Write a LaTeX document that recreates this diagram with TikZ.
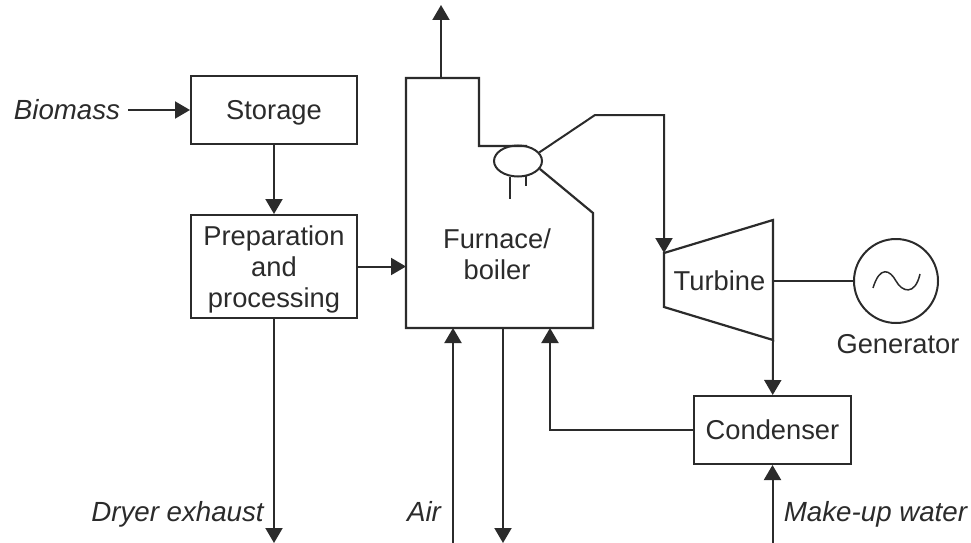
\documentclass[tikz,border=0pt]{standalone}
\usepackage{fontspec}
\setmainfont{Liberation Sans}
\usetikzlibrary{arrows.meta,shapes.geometric}
\definecolor{inkgray}{HTML}{2B2B2B}
\begin{document}
\begin{tikzpicture}
[every node/.style={inner sep=0pt, text=inkgray, font=\fontsize{27.3}{31}\selectfont},
 unit/.style={rectangle, line width=2pt, draw=inkgray, align=center},
 tag/.style={anchor=base, font=\fontsize{27.7}{31}\selectfont\itshape},
 flow/.style={line width=2pt, color=inkgray, -{Triangle[length=15pt,width=17pt]}},
 wall/.style={line width=2.2pt, color=inkgray}]
\useasboundingbox (0pt, 0pt) rectangle (971pt, -543pt);
\node (biomass) [tag] at (67pt, -119pt) {Biomass};
\node (storage) [unit, text depth=0pt, minimum width=166pt, minimum height=68pt] at (274pt, -110pt) {Storage};
\node (prep) [unit, minimum width=166pt, minimum height=103pt] at (274pt, -266.5pt) {Preparation\rule{0pt}{25pt}\\and\\processing};
\node (furnace) [align=center] at (497pt, -254.5pt) {Furnace/\\boiler};
\node (drum) [ellipse, minimum width=48pt, minimum height=31pt, line width=2pt, draw=inkgray] at (518pt, -161pt) {};
\node (turbine) at (719.5pt, -281pt) {Turbine};
\node (generator) [circle, minimum size=84pt, line width=2pt, draw=inkgray] at (896pt, -281pt) {};
\node (genlabel) at (898pt, -344pt) {Generator};
\node (condenser) [unit, minimum width=157pt, minimum height=68pt] at (772.5pt, -430pt) {Condenser};
\node (dryer) [tag] at (177.5pt, -521pt) {Dryer exhaust};
\node (air) [tag] at (424pt, -521pt) {Air};
\node (makeup) [tag] at (875.5pt, -521pt) {Make-up water};
\coordinate (biofree) at (128pt, -110pt);
\coordinate (flue) at (441pt, -78pt);
\coordinate (stack) at (441pt, -5pt);
\coordinate (feedin) at (406pt, -266.5pt);
\coordinate (airin) at (453pt, -328pt);
\coordinate (airfree) at (453pt, -543pt);
\coordinate (ashout) at (503pt, -328pt);
\coordinate (ashfree) at (503pt, -543pt);
\coordinate (returnin) at (550pt, -328pt);
\coordinate (dryerfree) at (274pt, -543pt);
\coordinate (waterfree) at (772.5pt, -543pt);
\coordinate (steamin) at (664pt, -253pt);
\coordinate (drumtop) at (527pt, -146pt);
\coordinate (shaft) at (773pt, -281pt);
\coordinate (exhaust) at (773pt, -340pt);
% furnace and turbine outlines
\draw [wall] (drumtop) -- (479pt, -146pt) -- (479pt, -78pt) -- (406pt, -78pt) -- (406pt, -328pt) -- (593pt, -328pt) -- (593pt, -213pt) -- (drum.-20);
\draw [wall] (510pt, -177pt) -- (510pt, -199pt);
\draw [wall] (526pt, -176pt) -- (526pt, -186pt);
\draw [wall] (steamin) -- (773pt, -220pt) -- (exhaust) -- (664pt, -307pt) -- cycle;
\draw [line width=1.5pt, color=inkgray] (873pt, -288pt) .. controls (880pt, -265pt) and (890pt, -270pt) .. (896pt, -281pt) .. controls (902pt, -292pt) and (915pt, -296pt) .. (920pt, -274pt);
% connectors
\draw [flow] (biofree) -- (storage);
\draw [flow] (storage) -- (prep);
\draw [flow] (prep.east |- feedin) -- (feedin);
\draw [flow] (prep) -- (dryerfree);
\draw [flow] (flue) -- (stack);
\draw [flow] (airfree) -- (airin);
\draw [flow] (ashout) -- (ashfree);
\draw [flow] (condenser) -- (550pt, -430pt) -- (returnin);
\draw [flow] (drum.22) -- (595pt, -115pt) -- (664pt, -115pt) -- (steamin);
\draw [wall] (shaft) -- (generator);
\draw [flow] (exhaust) -- (condenser);
\draw [flow] (waterfree) -- (condenser);
\end{tikzpicture}
\end{document}
